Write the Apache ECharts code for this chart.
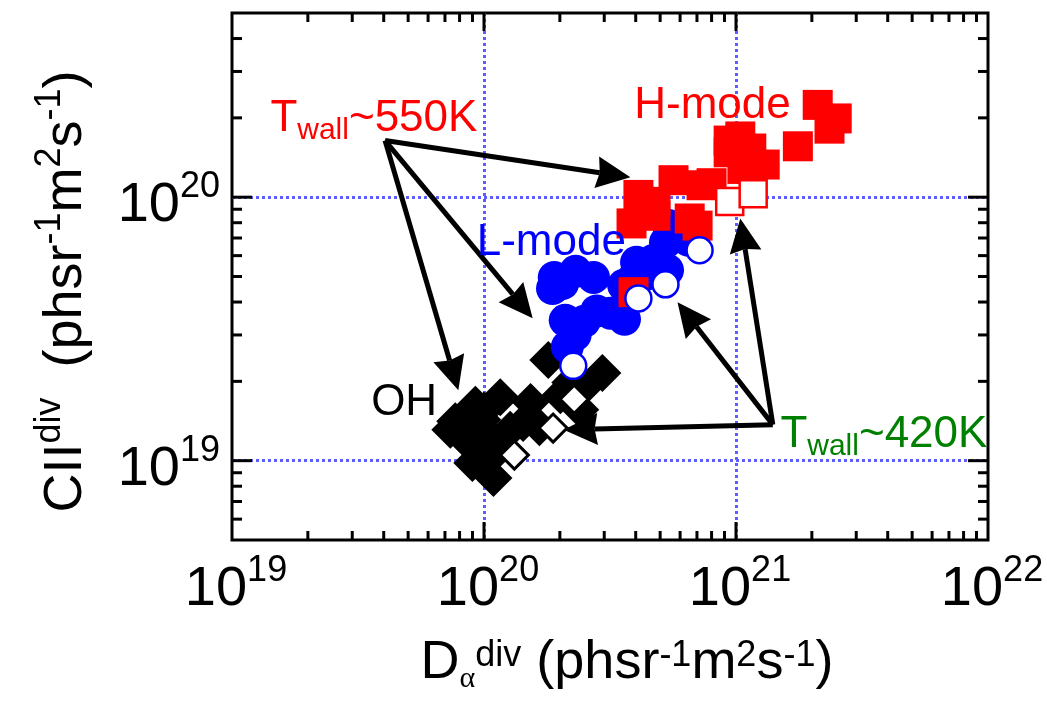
<!DOCTYPE html>
<html><head><meta charset="utf-8">
<script src="https://cdn.jsdelivr.net/npm/echarts@6/dist/echarts.min.js"></script>
<style>html,body{margin:0;padding:0;background:#fff}#c{width:1047px;height:717px}</style>
</head><body><div id="c"></div>
<script>
// ---- axis ranges and ticks ----
const xRange = [1e19, 1e22];
const yRange = [5e18, 5e20];
const xMajorTicks = [1e20, 1e21];
const xMinorTicks = [2e19,3e19,4e19,5e19,6e19,7e19,8e19,9e19,
                     2e20,3e20,4e20,5e20,6e20,7e20,8e20,9e20,
                     2e21,3e21,4e21,5e21,6e21,7e21,8e21,9e21];
const yMajorTicks = [1e19, 1e20];
const yMinorTicks = [6e18,7e18,8e18,9e18,
                     2e19,3e19,4e19,5e19,6e19,7e19,8e19,9e19,
                     2e20,3e20,4e20];

// ---- data: [D_alpha^div, CII^div] ----
const hModeFilled = [[2.11e21,2.24e20],[2.51e21,1.99e20],[2.35e21,1.82e20],[1.76e21,1.56e20],
  [1.04e21,1.70e20],[9.35e20,1.64e20],[9.35e20,1.48e20],[1.15e21,1.53e20],[1.30e21,1.33e20],
  [1.06e21,1.28e20],[4.10e20,1.02e20],[3.85e20,7.95e19],[4.79e20,9.6e19],[4.79e20,8.5e19],
  [5.65e20,1.16e20],[7.3e20,1.11e20],[8.0e20,1.13e20],[6.55e20,8.3e19],[7.04e20,7.8e19],
  [3.92e20,4.36e19]];
const hModeOpen = [[9.44e20,9.63e19],[1.17e21,1.03e20]];
const lModeFilled = [[1.90e20,4.96e19],[2.31e20,5.23e19],[2.72e20,4.96e19],[2.10e20,3.41e19],
  [2.50e20,3.38e19],[2.14e20,2.70e19],[3.18e20,3.63e19],[3.61e20,3.44e19],[3.58e20,4.63e19],
  [4.03e20,5.66e19],[4.71e20,5.76e19],[5.35e20,5.28e19],[5.25e20,6.74e19],[5.81e20,7.48e19],
  [1.87e20,4.5e19],[6.48e20,6.86e19],[5.40e20,7.8e19],[2.05e20,4.7e19],[2.30e20,3.0e19],
  [2.80e20,3.7e19],[4.40e20,5.1e19],[3.90e20,4.9e19]];
const lModeOpen = [[2.26e20,2.29e19],[4.10e20,4.13e19],[5.25e20,4.67e19],[7.17e20,6.29e19]];
const ohFilled = [[1.80e20,2.41e19],[2.95e20,2.15e19],[2.53e20,1.92e19],[2.41e20,1.56e19],
  [1.53e20,1.67e19],[1.43e20,1.39e19],[1.16e20,1.74e19],[9.24e19,1.63e19],[7.69e19,1.41e19],
  [8.27e19,1.33e19],[1.06e20,1.23e19],[8.99e19,9.8e18],[1.09e20,8.6e18],[1.66e20,1.34e19],
  [9.85e19,1.43e19],[1.14e20,1.10e19],[7.35e19,1.31e19],[1.27e20,1.31e19],[2.01e20,1.77e19],
  [1.00e20,1.55e19],[8.6e19,1.18e19],[2.20e20,1.98e19],[1.02e20,1.05e19]];
const ohOpen = [[2.28e20,1.71e19],[1.88e20,1.33e19],[1.32e20,1.05e19]];

// ---- annotations ----
const annotationTexts = ['T_wall~550K', 'H-mode', 'L-mode', 'OH', 'T_wall~420K'];
const annotationAnchors = [[1.42e19,1.90e20],[8.07e20,2.23e20],[1.85e20,6.68e19],[4.82e19,1.66e19],[1.50e21,1.20e19]];
const arrowTail550 = [4.05e19,1.64e20];
const arrowTips550 = [[3.81e20,1.19e20],[1.56e20,3.47e19],[7.91e19,1.85e19]];
const arrowTail420 = [1.40e21,1.37e19];
const arrowTips420 = [[5.86e20,3.99e19],[1.04e21,8.3e19],[2.07e20,1.31e19]];

const F = '"Liberation Sans", Arial, Helvetica, sans-serif';
const annotationColors = ['#ff0000','#ff0000','#0000ff','#000000','#008000'];
const annotationAlign = ['left','center','center','center','left'];

function powLabel(v) {
  const l = Math.log10(v), e = Math.round(l);
  if (Math.abs(l - e) > 1e-6) return '';
  return '{b|10}{s|' + e + '}';
}
const tickRich = {
  b: {fontSize: 56, lineHeight: 56, padding: [17, 0, 0, 0], fontFamily: F, color: '#000'},
  s: {fontSize: 36, verticalAlign: 'top', fontFamily: F, color: '#000'}
};

function annText(t) {
  if (t.indexOf('_') >= 0) {
    const parts = t.split('_');
    const sub = parts[1].slice(0, 4), rest = parts[1].slice(4);
    return '{t|' + parts[0] + '}{w|' + sub + '}{t|' + rest + '}';
  }
  return '{m|' + t + '}';
}

const annData = annotationTexts.map((t, i) => ({
  value: annotationAnchors[i],
  label: {
    show: true, position: 'inside', align: annotationAlign[i], verticalAlign: 'middle',
    formatter: annText(t),
    rich: {
      m: {fontSize: 44, lineHeight: 44, fontFamily: F, color: annotationColors[i]},
      t: {fontSize: 44, lineHeight: 44, padding: [0, 0, 10, 0], fontFamily: F, color: annotationColors[i]},
      w: {fontSize: 30, verticalAlign: 'bottom', fontFamily: F, color: annotationColors[i]}
    }
  }
}));

const arrowData = [];
arrowTips550.forEach(h => arrowData.push([arrowTail550[0], arrowTail550[1], h[0], h[1]]));
arrowTips420.forEach(h => arrowData.push([arrowTail420[0], arrowTail420[1], h[0], h[1]]));

function renderArrow(params, api) {
  const p1 = api.coord([api.value(0), api.value(1)]);
  const p2 = api.coord([api.value(2), api.value(3)]);
  const dx = p2[0] - p1[0], dy = p2[1] - p1[1];
  const L = Math.sqrt(dx * dx + dy * dy) || 1;
  const ux = dx / L, uy = dy / L, nx = -uy, ny = ux;
  const headLen = 34, halfW = 16, notch = 3;
  const bx = p2[0] - ux * headLen, by = p2[1] - uy * headLen;
  const cx = p2[0] - ux * (headLen - notch), cy = p2[1] - uy * (headLen - notch);
  return {type: 'group', children: [
    {type: 'line', shape: {x1: p1[0], y1: p1[1], x2: cx, y2: cy},
     style: {stroke: '#000', lineWidth: 5, lineCap: 'butt'}},
    {type: 'polygon', shape: {points: [[p2[0], p2[1]], [bx + nx * halfW, by + ny * halfW], [cx, cy], [bx - nx * halfW, by - ny * halfW]]},
     style: {fill: '#000'}}
  ]};
}

const tickData = [];
xMinorTicks.forEach(v => tickData.push([v, yRange[0], 0]));
xMajorTicks.forEach(v => tickData.push([v, yRange[0], 1]));
yMinorTicks.forEach(v => tickData.push([xRange[0], v, 2]));
yMajorTicks.forEach(v => tickData.push([xRange[0], v, 3]));

function renderTick(params, api) {
  const kind = api.value(2);
  const major = kind % 2 === 1;
  const st = {stroke: '#000', lineWidth: 3};
  if (kind < 2) {
    const len = major ? 18 : 9;
    const v = api.value(0);
    const b = api.coord([v, yRange[0]]), t = api.coord([v, yRange[1]]);
    return {type: 'group', children: [
      {type: 'line', shape: {x1: b[0], y1: b[1], x2: b[0], y2: b[1] - len}, style: st},
      {type: 'line', shape: {x1: t[0], y1: t[1], x2: t[0], y2: t[1] + len}, style: st}
    ]};
  } else {
    const len = major ? 20 : 10;
    const v = api.value(1);
    const l = api.coord([xRange[0], v]), r = api.coord([xRange[1], v]);
    return {type: 'group', children: [
      {type: 'line', shape: {x1: l[0], y1: l[1], x2: l[0] + len, y2: l[1]}, style: st},
      {type: 'line', shape: {x1: r[0], y1: r[1], x2: r[0] - len, y2: r[1]}, style: st}
    ]};
  }
}

const gridLine = {show: true, showMinLine: false, showMaxLine: false,
  lineStyle: {color: '#5c5cff', width: 3, type: [3, 3]}};

const chart = echarts.init(document.getElementById('c'), null, {renderer: 'canvas'});
chart.setOption({
  animation: false,
  backgroundColor: '#fff',
  grid: {left: 232, right: 59, top: 13, bottom: 177, show: true, borderColor: '#000', borderWidth: 3, backgroundColor: 'transparent'},
  xAxis: {
    type: 'log', min: xRange[0], max: xRange[1], logBase: 10,
    axisLine: {show: false}, axisTick: {show: false}, splitLine: gridLine,
    axisLabel: {formatter: powLabel, rich: tickRich, margin: 13, padding: [0, 0, 0, 8]},
    name: '{m|D}{sb|α}{sp|div}{m| (phsr}{sp|-1}{m|m}{sp|2}{m|s}{sp|-1}{m|)}',
    nameLocation: 'middle', nameGap: 98,
    nameTextStyle: {
      padding: [0, 0, 0, 34],
      rich: {
        m: {fontSize: 54, lineHeight: 56, padding: [12, 0, 18, 0], fontFamily: F, color: '#000'},
        sp: {fontSize: 36, verticalAlign: 'top', fontFamily: F, color: '#000'},
        sb: {fontSize: 30, verticalAlign: 'bottom', fontFamily: '"Liberation Serif", serif', color: '#000'}
      }
    }
  },
  yAxis: {
    type: 'log', min: yRange[0], max: yRange[1], logBase: 10,
    axisLine: {show: false}, axisTick: {show: false}, splitLine: gridLine,
    axisLabel: {formatter: powLabel, rich: tickRich, margin: 12},
    name: '{m|CII}{sp|div}{g| }{m|(phsr}{sp|-1}{m|m}{sp|2}{m|s}{sp|-1}{m|)}',
    nameLocation: 'middle', nameGap: 144, nameRotate: 90,
    nameTextStyle: {
      padding: [0, 30, 0, 0],
      rich: {
        m: {fontSize: 54, lineHeight: 56, padding: [12, 0, 0, 0], fontFamily: F, color: '#000'},
        g: {fontSize: 54, lineHeight: 56, width: 30, fontFamily: F},
        sp: {fontSize: 36, verticalAlign: 'top', fontFamily: F, color: '#000'}
      }
    }
  },
  series: [
    {name: 'OH', type: 'scatter', data: ohFilled, symbol: 'diamond', symbolSize: 38,
     itemStyle: {color: '#000', opacity: 1}},
    {name: 'OH open', type: 'scatter', data: ohOpen, symbol: 'diamond', symbolSize: 28,
     itemStyle: {color: '#fff', borderColor: '#000', borderWidth: 3, opacity: 1}},
    {name: 'L-mode', type: 'scatter', data: lModeFilled, symbol: 'circle', symbolSize: 33,
     itemStyle: {color: '#0000ff', opacity: 1}},
    {name: 'H-mode', type: 'scatter', data: hModeFilled, symbol: 'rect', symbolSize: 30,
     itemStyle: {color: '#ff0000', opacity: 1}},
    {name: 'H-mode open', type: 'scatter', data: hModeOpen, symbol: 'rect', symbolSize: 27,
     itemStyle: {color: '#fff', borderColor: '#ff0000', borderWidth: 2.5, opacity: 1}},
    {name: 'L-mode open', type: 'scatter', data: lModeOpen, symbol: 'circle', symbolSize: 26,
     itemStyle: {color: '#fff', borderColor: '#0000ff', borderWidth: 2.5, opacity: 1}},
    {name: 'arrows', type: 'custom', data: arrowData, renderItem: renderArrow, silent: true, z: 4,
     encode: {x: [0, 2], y: [1, 3]}},
    {name: 'annotations', type: 'scatter', data: annData, symbolSize: 0, silent: true, z: 5,
     itemStyle: {opacity: 1}},
    {name: 'ticks', type: 'custom', data: tickData, renderItem: renderTick, clip: false, silent: true, z: 6,
     encode: {x: 0, y: 1}}
  ]
});
</script></body></html>
